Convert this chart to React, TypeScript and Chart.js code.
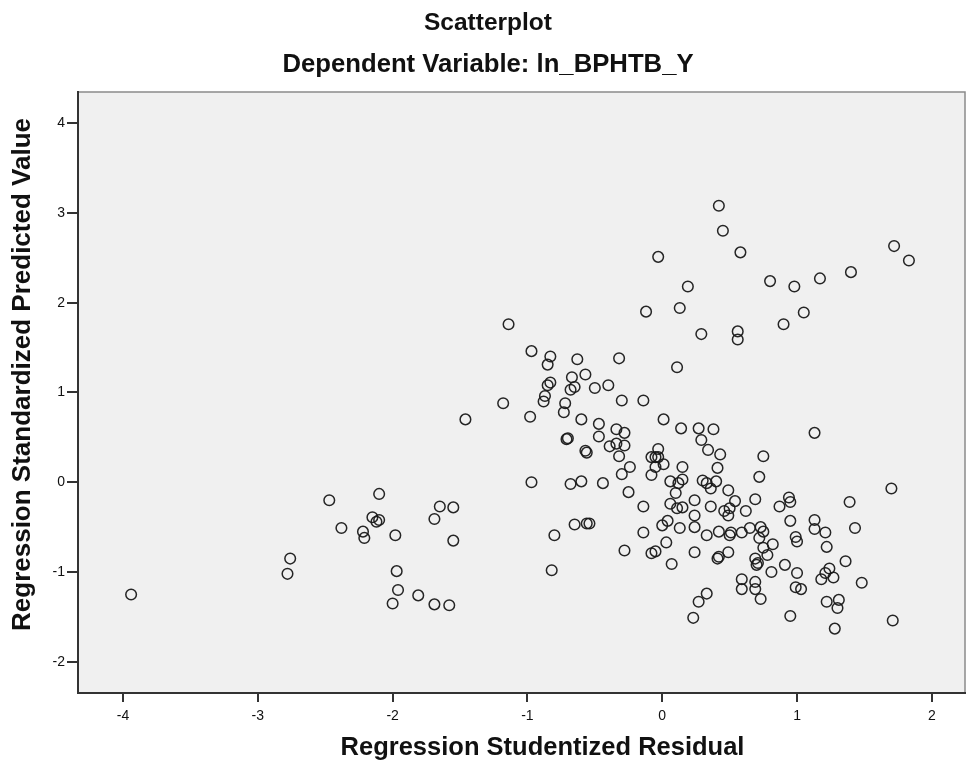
import React, { useEffect, useRef } from "react";
import { Chart, registerables } from "chart.js";

Chart.register(...registerables);

// Regression Studentized Residual (x) for each case
const residuals = [
  -3.94, -2.76, -2.78, -2.47, -2.38, -2.22, -2.21, -2.15, -2.10, -2.12, -2.10, -1.98, -1.97, -1.96, -2.00, -1.81,
  -1.69, -1.65, -1.55, -1.55, -1.69, -1.58,
  -0.97, -0.80, -0.82, -0.68, -0.60, -0.44, -0.65, -0.56, -0.54,
  0.42, 0.45, 0.58, -0.03, 0.19, 0.80, 0.98, 1.17, 1.40, 1.72, 1.83, -0.12, 0.13, 0.90, 1.05, 0.29, 0.56, 0.56,
  -1.14, 0.11, 1.13, -1.46, -1.18, -0.98, -0.97, -0.83, -0.85, -0.63, -0.32, -0.57, -0.67, -0.65, -0.68, -0.50,
  -0.40, -0.83, -0.85, -0.87, -0.88, -0.72, -0.73, -0.30, -0.14, -0.60, 0.01, -0.47, -0.47, -0.34, -0.28, -0.71,
  -0.70, 0.14, 0.27, 0.38, 0.29, 0.34, 0.43, 0.75, -0.39, -0.34, -0.28, -0.56, -0.57, -0.32, -0.03, -0.08, -0.05,
  -0.03, 0.01, -0.08, -0.05, -0.24, -0.30, -0.25, -0.14, -0.14, -0.28, -0.08, -0.05, 0.03, 0.07, 0.00, 0.04, 0.13,
  0.06, 0.12, 0.10, 0.15, 0.15, 0.06, 0.11, 0.15, 0.24, 0.24, 0.24, 0.24, 0.27, 0.23, 0.41, 0.72, 1.70, 0.30, 0.33,
  0.36, 0.40, 0.36, 0.49, 0.54, 0.69, 0.62, 0.46, 0.49, 0.50, 0.94, 0.95, 0.87, 1.39, 0.95, 1.13, 1.13, 1.21, 1.43,
  0.33, 0.42, 0.51, 0.50, 0.59, 0.65, 0.73, 0.75, 0.72, 0.99, 1.00, 0.41, 0.42, 0.49, 0.75, 0.82, 0.78, 1.22, 0.69,
  0.71, 0.70, 0.81, 0.91, 1.00, 1.36, 1.24, 1.21, 1.18, 1.27, 1.48, 0.59, 0.59, 0.69, 0.69, 0.73, 0.99, 1.03, 1.22,
  1.31, 1.30, 0.95, 1.28, 1.71, 0.33,
];

// Regression Standardized Predicted Value (y) for each case
const predicted = [
  -1.25, -0.85, -1.02, -0.20, -0.51, -0.55, -0.62, -0.39, -0.42, -0.44, -0.13, -0.59, -0.99, -1.20, -1.35, -1.26,
  -0.41, -0.27, -0.28, -0.65, -1.36, -1.37,
  0.00, -0.59, -0.98, -0.02, 0.01, -0.01, -0.47, -0.46, -0.46,
  3.08, 2.80, 2.56, 2.51, 2.18, 2.24, 2.18, 2.27, 2.34, 2.63, 2.47, 1.90, 1.94, 1.76, 1.89, 1.65, 1.68, 1.59,
  1.76, 1.28, 0.55, 0.70, 0.88, 0.73, 1.46, 1.40, 1.31, 1.37, 1.38, 1.20, 1.17, 1.06, 1.03, 1.05,
  1.08, 1.11, 1.08, 0.96, 0.90, 0.88, 0.78, 0.91, 0.91, 0.70, 0.70, 0.65, 0.51, 0.59, 0.55, 0.48,
  0.49, 0.60, 0.60, 0.59, 0.47, 0.36, 0.31, 0.29, 0.40, 0.43, 0.41, 0.33, 0.35, 0.29, 0.37, 0.28, 0.28,
  0.28, 0.20, 0.08, 0.17, 0.17, 0.09, -0.11, -0.27, -0.56, -0.76, -0.79, -0.77, -0.67, -0.91, -0.48, -0.43, -0.51,
  0.01, -0.01, -0.12, 0.17, 0.03, -0.24, -0.29, -0.28, -0.20, -0.37, -0.50, -0.78, -1.33, -1.51, 0.16, 0.06, -0.07, 0.02, -0.01,
  -0.07, 0.01, -0.27, -0.09, -0.21, -0.19, -0.32, -0.32, -0.37, -0.29, -0.17, -0.22, -0.27, -0.22, -0.43, -0.42, -0.52, -0.56, -0.51,
  -0.59, -0.55, -0.56, -0.59, -0.56, -0.51, -0.50, -0.55, -0.62, -0.61, -0.66, -0.85, -0.83, -0.78, -0.73, -0.69, -0.81, -0.72, -0.85,
  -0.90, -0.92, -1.00, -0.92, -1.01, -0.88, -0.96, -1.01, -1.08, -1.06, -1.12, -1.08, -1.19, -1.11, -1.19, -1.30, -1.17, -1.19, -1.33,
  -1.31, -1.40, -1.49, -1.63, -1.54, -1.24,
];

const xTicks = [-4, -3, -2, -1, 0, 1, 2];
const yTicks = [-2, -1, 0, 1, 2, 3, 4];

const titleText = "Scatterplot";
const subtitleText = "Dependent Variable: ln_BPHTB_Y";
const xTitleText = "Regression Studentized Residual";
const yTitleText = "Regression Standardized Predicted Value";

const FONT = '"Liberation Sans", Arial, Helvetica, sans-serif';

export default function App() {
  const ref = useRef<HTMLCanvasElement | null>(null);

  useEffect(() => {
    if (!ref.current) return;

    const framePlugin = {
      id: "spssFrame",
      beforeDraw(chart: any) {
        const { ctx, chartArea: a } = chart;
        ctx.save();
        ctx.fillStyle = "#ffffff";
        ctx.fillRect(0, 0, chart.width, chart.height);
        ctx.fillStyle = "#f0f0f0";
        ctx.fillRect(a.left, a.top, a.right - a.left, a.bottom - a.top);
        ctx.strokeStyle = "#8a8a8a";
        ctx.lineWidth = 1.5;
        ctx.beginPath();
        ctx.moveTo(a.left, a.top);
        ctx.lineTo(a.right, a.top);
        ctx.lineTo(a.right, a.bottom);
        ctx.stroke();
        ctx.restore();
      },
      afterDraw(chart: any) {
        const { ctx, chartArea: a } = chart;
        ctx.save();
        ctx.fillStyle = "#111111";
        ctx.textAlign = "center";
        ctx.textBaseline = "middle";
        ctx.font = `bold 24.5px ${FONT}`;
        ctx.fillText(titleText, chart.width / 2 + 5, 23);
        ctx.font = `bold 25.7px ${FONT}`;
        ctx.fillText(subtitleText, chart.width / 2 + 5, 65);
        ctx.font = `bold 25.5px ${FONT}`;
        const cx = (a.left + a.right) / 2 + 21;
        ctx.fillText(xTitleText, cx, 748);
        const cy = (a.top + a.bottom) / 2 - 18;
        ctx.font = `bold 26px ${FONT}`;
        ctx.translate(23, cy);
        ctx.rotate(-Math.PI / 2);
        ctx.fillText(yTitleText, 0, 0);
        ctx.restore();
      },
    };

    const points = residuals.map((x, i) => ({ x, y: predicted[i] }));

    const chart = new Chart(ref.current, {
      type: "scatter",
      data: {
        datasets: [
          {
            data: points,
            pointStyle: "circle",
            pointRadius: 5.3,
            pointBorderWidth: 1.5,
            borderColor: "rgba(25,25,25,0.95)",
            backgroundColor: "rgba(0,0,0,0)",
            pointBackgroundColor: "rgba(0,0,0,0)",
            pointBorderColor: "rgba(25,25,25,0.95)",
          },
        ],
      },
      options: {
        animation: false,
        responsive: false,
        layout: { autoPadding: false, padding: { top: 92, right: 1, left: 0, bottom: 0 } },
        plugins: {
          legend: { display: false },
          tooltip: { enabled: false },
          title: { display: false },
        },
        scales: {
          x: {
            type: "linear",
            min: -4.334,
            max: 2.246,
            afterBuildTicks: (scale: any) => {
              scale.ticks = xTicks.map((v) => ({ value: v }));
            },
            afterFit: (scale: any) => {
              scale.height = 74;
              scale.paddingLeft = 0;
              scale.paddingRight = 0;
            },
            grid: {
              drawOnChartArea: false,
              drawTicks: true,
              tickLength: 9,
              color: "#333333",
              lineWidth: 2,
            },
            border: { display: true, color: "#333333", width: 2 },
            ticks: {
              color: "#111111",
              font: { family: FONT, size: 14 },
              padding: 6,
              maxRotation: 0,
            },
          },
          y: {
            type: "linear",
            min: -2.347,
            max: 4.346,
            afterBuildTicks: (scale: any) => {
              scale.ticks = yTicks.map((v) => ({ value: v }));
            },
            afterFit: (scale: any) => {
              scale.width = 78;
              scale.paddingTop = 0;
              scale.paddingBottom = 0;
            },
            grid: {
              drawOnChartArea: false,
              drawTicks: true,
              tickLength: 11,
              color: "#333333",
              lineWidth: 2,
            },
            border: { display: true, color: "#333333", width: 2 },
            ticks: {
              color: "#111111",
              font: { family: FONT, size: 14 },
              padding: 2,
            },
          },
        },
      },
      plugins: [framePlugin],
    });

    return () => {
      chart.destroy();
    };
  }, []);

  return (
    <div
      style={{
        position: "absolute",
        left: 0,
        top: 0,
        width: 966,
        height: 767,
        background: "#ffffff",
      }}
    >
      <canvas ref={ref} width={966} height={767} style={{ display: "block" }} />
    </div>
  );
}
